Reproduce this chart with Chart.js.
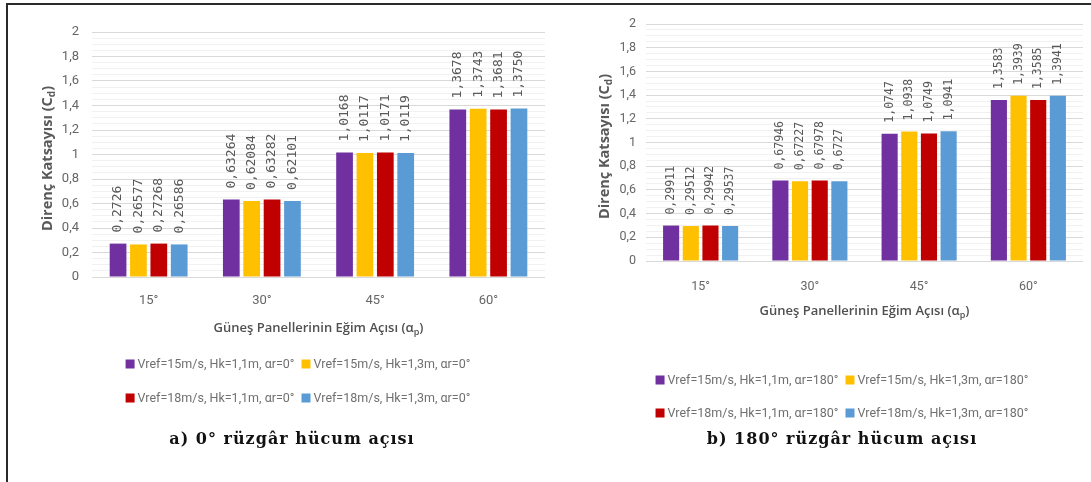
<!DOCTYPE html>
<html>
<head>
<meta charset="utf-8">
<script src="https://cdn.jsdelivr.net/npm/chart.js@4/dist/chart.umd.min.js"></script>
<style>
  body { margin: 0; background: #fff; width: 1091px; height: 482px; overflow: hidden; position: relative; }
  #frame { position: absolute; left: 6px; top: 3px; width: 1100px; height: 500px; border-left: 2px solid #2a2a2a; border-top: 2px solid #2a2a2a; }
  #chartA { position: absolute; left: 8px; top: 6px; }
  #chartB { position: absolute; left: 580px; top: 6px; }
</style>
</head>
<body>
<div id="frame"></div>
<canvas id="chartA" width="544" height="470"></canvas>
<canvas id="chartB" width="511" height="470"></canvas>
<script>
// categories (tilt angle of the panels)
const categories = ['15°', '30°', '45°', '60°'];
const yTickLabels = ['0', '0,2', '0,4', '0,6', '0,8', '1', '1,2', '1,4', '1,6', '1,8', '2'];
const colors = ['#7030A0', '#FFC000', '#C00000', '#5B9BD5'];

// a) 0° wind angle
const namesA = [
  'Vref=15m/s, Hk=1,1m, αr=0°',
  'Vref=15m/s, Hk=1,3m, αr=0°',
  'Vref=18m/s, Hk=1,1m, αr=0°',
  'Vref=18m/s, Hk=1,3m, αr=0°'
];
const a_v15_h11 = ['0,2726', '0,63264', '1,0168', '1,3678'];
const a_v15_h13 = ['0,26577', '0,62084', '1,0117', '1,3743'];
const a_v18_h11 = ['0,27268', '0,63282', '1,0171', '1,3681'];
const a_v18_h13 = ['0,26586', '0,62101', '1,0119', '1,3750'];

// b) 180° wind angle
const namesB = [
  'Vref=15m/s, Hk=1,1m, αr=180°',
  'Vref=15m/s, Hk=1,3m, αr=180°',
  'Vref=18m/s, Hk=1,1m, αr=180°',
  'Vref=18m/s, Hk=1,3m, αr=180°'
];
const b_v15_h11 = ['0,29911', '0,67946', '1,0747', '1,3583'];
const b_v15_h13 = ['0,29512', '0,67227', '1,0938', '1,3939'];
const b_v18_h11 = ['0,29942', '0,67978', '1,0749', '1,3585'];
const b_v18_h13 = ['0,29537', '0,6727', '1,0941', '1,3941'];

const num = s => parseFloat(s.replace(',', '.'));

// draws a string made of [text, isSubscript] parts, centred on x
function drawParts(ctx, parts, x, y, font, subFont) {
  let total = 0;
  const widths = parts.map(p => {
    ctx.font = p[1] ? subFont : font;
    const w = ctx.measureText(p[0]).width;
    total += w;
    return w;
  });
  let cx = x - total / 2;
  parts.forEach((p, i) => {
    ctx.font = p[1] ? subFont : font;
    ctx.fillText(p[0], cx, p[1] ? y + 4 : y);
    cx += widths[i];
  });
}

const extras = {
  id: 'extras',
  afterDatasetsDraw(chart, args, o) {
    const ctx = chart.ctx;
    ctx.save();
    ctx.font = o.valueFont;
    ctx.fillStyle = '#595959';
    ctx.textAlign = 'left';
    ctx.textBaseline = 'middle';
    chart.data.datasets.forEach((ds, i) => {
      chart.getDatasetMeta(i).data.forEach((bar, j) => {
        ctx.save();
        ctx.translate(bar.x, bar.y - o.labelGap);
        ctx.rotate(-Math.PI / 2);
        ctx.fillText(ds.valueText[j], 0, 0);
        ctx.restore();
      });
    });
    ctx.restore();
  },
  afterDraw(chart, args, o) {
    const ctx = chart.ctx;
    const area = chart.chartArea;
    ctx.save();
    ctx.textAlign = 'left';
    ctx.textBaseline = 'middle';

    // y axis title
    ctx.fillStyle = '#595959';
    ctx.save();
    ctx.translate(o.yTitleX, (area.top + area.bottom) / 2 + 4);
    ctx.rotate(-Math.PI / 2);
    drawParts(ctx, [['Direnç Katsayısı (C', false], ['d', true], [')', false]], 0, 0,
      'bold 14.5px "Open Sans"', 'bold 10px "Open Sans"');
    ctx.restore();

    // x axis title
    ctx.fillStyle = '#505050';
    drawParts(ctx, [['Güneş Panellerinin Eğim Açısı (α', false], ['p', true], [')', false]],
      (area.left + area.right) / 2, o.xTitleY, '600 13px "Open Sans"', '600 9px "Open Sans"');

    // legend, two rows of two
    ctx.font = o.legendFont;
    const items = chart.data.datasets;
    [[0, 1], [2, 3]].forEach((row, r) => {
      const ws = row.map(k => 9 + 3 + ctx.measureText(items[k].label).width);
      const rowW = ws[0] + ws[1] + 7;
      let x = o.legendX - rowW / 2;
      const y = o.legendY[r];
      row.forEach((k, n) => {
        ctx.fillStyle = items[k].backgroundColor;
        ctx.fillRect(x, y - 4.5, 9, 9);
        ctx.fillStyle = '#707070';
        ctx.fillText(items[k].label, x + 12, y + 0.5);
        x += ws[n] + 7;
      });
    });

    // caption
    ctx.fillStyle = '#111';
    ctx.font = 'bold 16px "DejaVu Serif", serif';
    ctx.letterSpacing = '1px';
    ctx.textAlign = 'center';
    ctx.fillText(o.caption, o.captionX, o.captionY);
    ctx.restore();
  }
};

function makeChart(id, names, series, cfg) {
  new Chart(document.getElementById(id), {
    type: 'bar',
    data: {
      labels: categories,
      datasets: series.map((s, i) => ({
        label: names[i],
        data: s.map(num),
        valueText: s,
        backgroundColor: colors[i],
        categoryPercentage: 0.72,
        barPercentage: 0.82
      }))
    },
    options: {
      responsive: false,
      animation: false,
      events: [],
      layout: { padding: cfg.padding },
      scales: {
        x: {
          grid: { display: false },
          border: { display: false },
          ticks: { color: '#666', padding: cfg.xTickPad, font: { family: 'Roboto', size: cfg.tickSize } },
          afterFit(scale) { scale.height = 60; }
        },
        y: {
          min: 0,
          max: 2,
          border: { display: false },
          grid: {
            drawTicks: false,
            color: c => (Math.round(c.tick.value * 20) % 4 === 0 ? '#d9d9d9' : '#f1f1f1')
          },
          ticks: {
            stepSize: 0.05,
            autoSkip: false,
            padding: cfg.yTickPad,
            color: '#666',
            font: { family: 'Roboto', size: cfg.tickSize },
            callback: v => {
              const k = Math.round(v * 20);
              return k % 4 === 0 ? yTickLabels[k / 4] : '';
            }
          },
          afterFit(scale) { scale.width = cfg.yWidth; }
        }
      },
      plugins: {
        legend: { display: false },
        tooltip: { enabled: false },
        extras: cfg.extras
      }
    },
    plugins: [extras]
  });
}

makeChart('chartA', namesA, [a_v15_h11, a_v15_h13, a_v18_h11, a_v18_h13], {
  padding: { top: 26, right: 7, bottom: 139, left: 0 },
  yWidth: 84, yTickPad: 13, xTickPad: 8, tickSize: 13,
  extras: {
    valueFont: '13px "DejaVu Sans Mono"', labelGap: 11,
    yTitleX: 40, xTitleY: 322,
    legendFont: '12.5px Roboto', legendX: 290, legendY: [358, 392],
    caption: 'a) 0° rüzgâr hücum açısı', captionX: 284, captionY: 434
  }
});

makeChart('chartB', namesB, [b_v15_h11, b_v15_h13, b_v18_h11, b_v18_h13], {
  padding: { top: 18, right: 8, bottom: 155, left: 0 },
  yWidth: 66, yTickPad: 10, xTickPad: 10, tickSize: 12.5,
  extras: {
    valueFont: '11.5px "DejaVu Sans Mono"', labelGap: 11,
    yTitleX: 25, xTitleY: 305,
    legendFont: '12.5px Roboto', legendX: 262, legendY: [374, 407],
    caption: 'b) 180° rüzgâr hücum açısı', captionX: 262, captionY: 434
  }
});
</script>
</body>
</html>
